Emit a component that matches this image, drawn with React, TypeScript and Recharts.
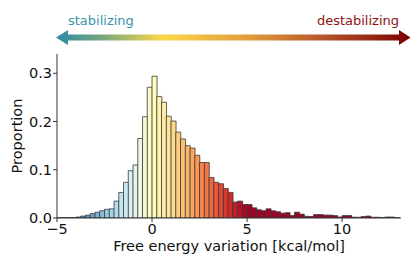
import { ComposedChart, Bar, Cell, XAxis, YAxis } from "recharts";

// left edges of the 0.25 kcal/mol bins
const binEdges = [
  -5, -4.75, -4.5, -4.25, -4, -3.75, -3.5, -3.25, -3, -2.75, -2.5, -2.25,
  -2, -1.75, -1.5, -1.25, -1, -0.75, -0.5, -0.25, 0, 0.25, 0.5, 0.75,
  1, 1.25, 1.5, 1.75, 2, 2.25, 2.5, 2.75, 3, 3.25, 3.5, 3.75,
  4, 4.25, 4.5, 4.75, 5, 5.25, 5.5, 5.75, 6, 6.25, 6.5, 6.75,
  7, 7.25, 7.5, 7.75, 8, 8.25, 8.5, 8.75, 9, 9.25, 9.5, 9.75,
  10, 10.25, 10.5, 10.75, 11, 11.25, 11.5, 11.75, 12, 12.25, 12.5, 12.75,
];

const proportions = [
  0.0005, 0.0008, 0.0008, 0.001, 0.002, 0.004, 0.006, 0.009, 0.012, 0.015, 0.018, 0.019,
  0.035, 0.053, 0.074, 0.098, 0.11, 0.165, 0.21, 0.271, 0.294, 0.252, 0.24, 0.211,
  0.201, 0.178, 0.164, 0.15, 0.145, 0.13, 0.115, 0.115, 0.084, 0.074, 0.071, 0.061,
  0.053, 0.033, 0.035, 0.028, 0.028, 0.021, 0.017, 0.015, 0.019, 0.015, 0.013, 0.01,
  0.011, 0.005, 0.012, 0.008, 0.0035, 0.003, 0.007, 0.007, 0.006, 0.006, 0.005, 0.002,
  0.005, 0.005, 0.0015, 0.0015, 0.003, 0.004, 0.0015, 0.0015, 0.001, 0.002, 0.002, 0.001,
];

const xTicks = [-5, 0, 5, 10];
const yTicks = [0, 0.1, 0.2, 0.3];

const BIN_WIDTH = 0.25;

const data = binEdges.map((e, i) => ({ x: e + BIN_WIDTH / 2, p: proportions[i] }));

// RdYlBu reversed, blue -> yellow -> red
const CMAP = [
  "#313695", "#4575b4", "#74add1", "#abd9e9", "#e0f3f8", "#ffffbf",
  "#fee090", "#fdae61", "#f46d43", "#d73027", "#a50026",
];

const hexToRgb = (h: string) => [1, 3, 5].map((k) => parseInt(h.slice(k, k + 2), 16));

const colorFor = (v: number) => {
  let t = (v + 5) / 10;
  t = Math.max(0, Math.min(1, t));
  const pos = t * (CMAP.length - 1);
  const i = Math.min(Math.floor(pos), CMAP.length - 2);
  const f = pos - i;
  const a = hexToRgb(CMAP[i]);
  const b = hexToRgb(CMAP[i + 1]);
  const c = a.map((v0, k) => Math.round(v0 + (b[k] - v0) * f));
  return `rgb(${c[0]},${c[1]},${c[2]})`;
};

const fmtMinus = (v: number) => String(v).replace("-", "\u2212");

const Arrow = () => (
  <svg width={416} height={50} style={{ position: "absolute", left: 0, top: 0 }}>
    <defs>
      <linearGradient id="arrowGrad" gradientUnits="userSpaceOnUse" x1={56} x2={411} y1={0} y2={0}>
        <stop offset="0%" stopColor="#2a8aa8" />
        <stop offset="14%" stopColor="#7eaa7a" />
        <stop offset="30%" stopColor="#fcd84c" />
        <stop offset="55%" stopColor="#e09a3a" />
        <stop offset="76%" stopColor="#b5532a" />
        <stop offset="100%" stopColor="#7a0000" />
      </linearGradient>
    </defs>
    <polygon
      points="56,37.5 68,30 68,34.5 399,34.5 399,30 410.5,37.5 399,45 399,40.5 68,40.5 68,45"
      fill="url(#arrowGrad)"
    />
    <text x={68} y={24.5} fontSize={13} fill="#3a93a9">
      stabilizing
    </text>
    <text x={399} y={24.5} fontSize={13} fill="#8c1212" textAnchor="end">
      destabilizing
    </text>
  </svg>
);

export default function App() {
  return (
    <div
      style={{
        position: "absolute",
        left: 0,
        top: 0,
        width: 416,
        height: 267,
        background: "#fff",
        fontFamily: "'DejaVu Sans', sans-serif",
      }}
    >
      <ComposedChart
        width={416}
        height={267}
        data={data}
        margin={{ top: 54, right: 15, bottom: 0, left: 0 }}
        barCategoryGap={0}
        barGap={0}
      >
        <XAxis
          type="number"
          dataKey="x"
          domain={[-5, 13.1]}
          ticks={xTicks}
          allowDataOverflow
          height={49}
          tickSize={4}
          tickMargin={2}
          tickFormatter={fmtMinus}
          stroke="#333"
          tick={{ fill: "#111", fontSize: 14.5 }}
          label={{
            value: "Free energy variation [kcal/mol]",
            position: "insideBottom",
            offset: 16.5,
            fill: "#111",
            fontSize: 14.5,
          }}
        />
        <YAxis
          type="number"
          domain={[0, 0.34]}
          ticks={yTicks}
          allowDataOverflow
          width={57}
          tickSize={4}
          tickMargin={1}
          tickFormatter={(v: number) => v.toFixed(1)}
          stroke="#333"
          tick={{ fill: "#111", fontSize: 14.5 }}
          label={{
            value: "Proportion",
            angle: -90,
            position: "insideLeft",
            offset: 16.5,
            fill: "#111",
            fontSize: 14.5,
            style: { textAnchor: "middle" },
          }}
        />
        <Bar dataKey="p" isAnimationActive={false} stroke="#3a3a3a" strokeWidth={0.8}>
          {data.map((d, i) => (
            <Cell key={i} fill={colorFor(d.x)} />
          ))}
        </Bar>
      </ComposedChart>
      <Arrow />
    </div>
  );
}
